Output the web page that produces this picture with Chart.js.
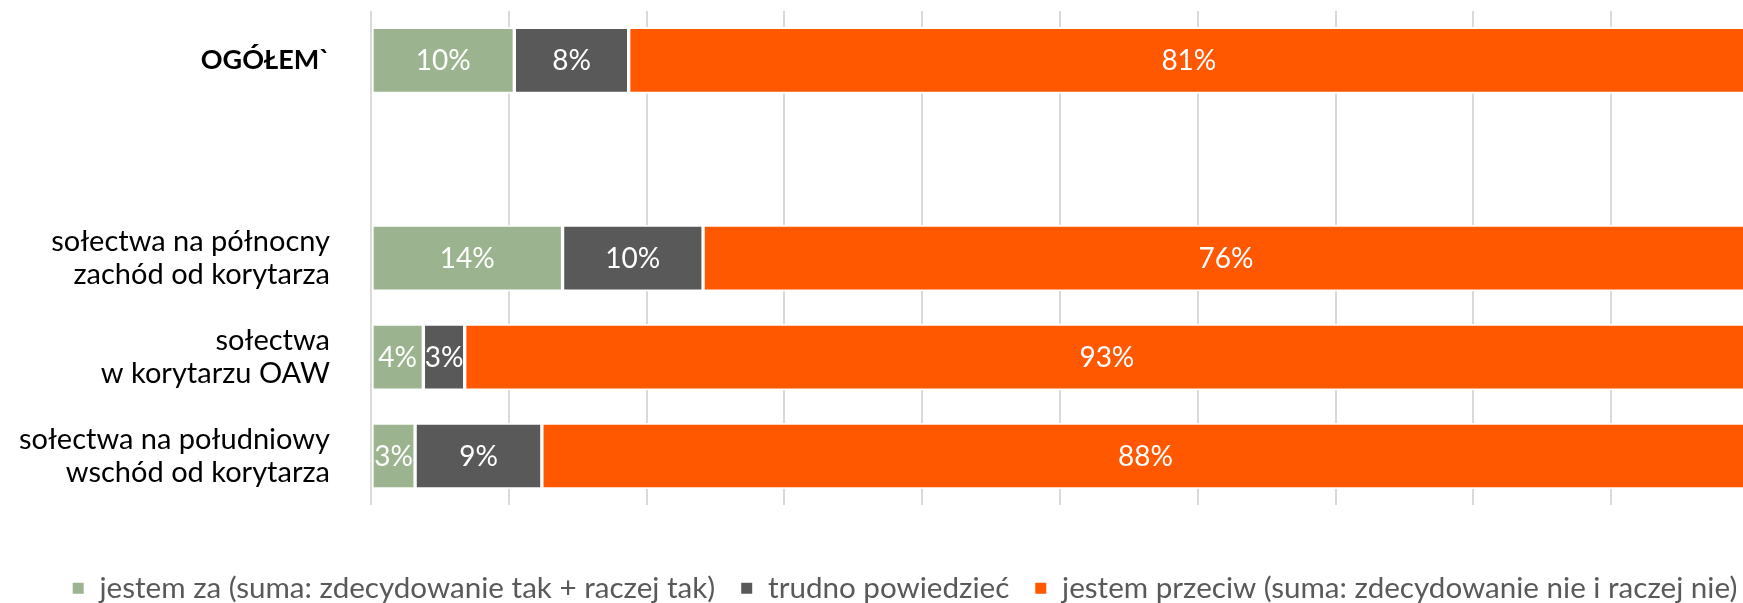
<!DOCTYPE html>
<html>
<head>
<meta charset="utf-8">
<script src="https://cdn.jsdelivr.net/npm/chart.js@4.4.1/dist/chart.umd.min.js"></script>
<style>
    html, body { margin: 0; padding: 0; background: #fff; overflow: hidden; }
    #wrap { position: relative; width: 1751px; height: 603px; }
</style>
</head>
<body>
<div id="wrap"><canvas id="chart"></canvas></div>
<script>
// Categories (second row is an empty spacer in the original)
const categories = [
    'OGÓŁEM`',
    '',
    ['sołectwa na północny', 'zachód od korytarza'],
    ['sołectwa', 'w korytarzu OAW'],
    ['sołectwa na południowy', 'wschód od korytarza']
];

const seriesNames = [
    'jestem za (suma: zdecydowanie tak + raczej tak)',
    'trudno powiedzieć',
    'jestem przeciw (suma: zdecydowanie nie i raczej nie)'
];

// Shares in %
const forValues = [10.4, null, 13.9, 3.8, 3.2];
const unsureValues = [8.3, null, 10.2, 3.0, 9.2];
const againstValues = [81.3, null, 75.9, 93.2, 87.6];

const colors = ['#9bb48f', '#595959', '#ff5800'];
const FONT = 'Lato, "Open Sans", sans-serif';

// White % labels centred in each segment
const segmentLabels = {
    id: 'segmentLabels',
    afterDatasetsDraw(chart) {
        const ctx = chart.ctx;
        ctx.save();
        ctx.font = `28px ${FONT}`;
        ctx.fillStyle = '#ffffff';
        ctx.textAlign = 'center';
        ctx.textBaseline = 'middle';
        chart.data.datasets.forEach((ds, i) => {
            const meta = chart.getDatasetMeta(i);
            meta.data.forEach((bar, j) => {
                const v = ds.data[j];
                if (v === null || v === undefined) return;
                const p = bar.getCenterPoint();
                ctx.fillText(Math.round(v) + '%', p.x, p.y + 1);
            });
        });
        ctx.restore();
    }
};

// legend in the original sits a bit right of the canvas centre
const legendShift = {
    id: 'legendShift',
    afterLayout(chart) {
        chart.legend.left += 30;
        chart.legend.right += 30;
    }
};

const ctx = document.getElementById('chart').getContext('2d');

new Chart(ctx, {
    type: 'bar',
    data: {
        labels: categories,
        datasets: [forValues, unsureValues, againstValues].map((vals, i) => ({
            label: seriesNames[i],
            data: vals,
            backgroundColor: colors[i],
            borderColor: '#ffffff',
            borderWidth: 2,
            borderSkipped: false,
            barThickness: 66
        }))
    },
    options: {
        indexAxis: 'y',
        responsive: true,
        maintainAspectRatio: false,
        devicePixelRatio: 1,
        animation: false,
        layout: {
            padding: { top: 11, left: 0, right: 2, bottom: -10 }
        },
        plugins: {
            legend: {
                position: 'bottom',
                labels: {
                    boxWidth: 13,
                    boxHeight: 13,
                    padding: 25,
                    color: '#595959',
                    font: { family: FONT, size: 29.6 }
                }
            },
            tooltip: { enabled: false }
        },
        scales: {
            x: {
                stacked: true,
                min: 0,
                max: 100,
                ticks: { display: false, stepSize: 10 },
                grid: {
                    color: '#d9d9d9',
                    lineWidth: 2,
                    drawTicks: false
                },
                border: { display: false },
                afterFit: (scale) => {
                    scale.height = 43;
                    scale.paddingLeft = 0;
                    scale.paddingRight = 0;
                }
            },
            y: {
                stacked: true,
                grid: { display: false, drawTicks: false, tickLength: 0 },
                border: { display: false },
                ticks: {
                    padding: 41,
                    color: '#000000',
                    autoSkip: false,
                    font: (c) => ({
                        family: FONT,
                        size: c.index === 0 ? 27 : 29,
                        lineHeight: 1.12,
                        weight: c.index === 0 ? 'bold' : 'normal'
                    })
                },
                afterFit: (scale) => {
                    scale.width = 371;
                    scale.paddingTop = 0;
                    scale.paddingBottom = 0;
                }
            }
        }
    },
    plugins: [segmentLabels, legendShift]
});
</script>
</body>
</html>
